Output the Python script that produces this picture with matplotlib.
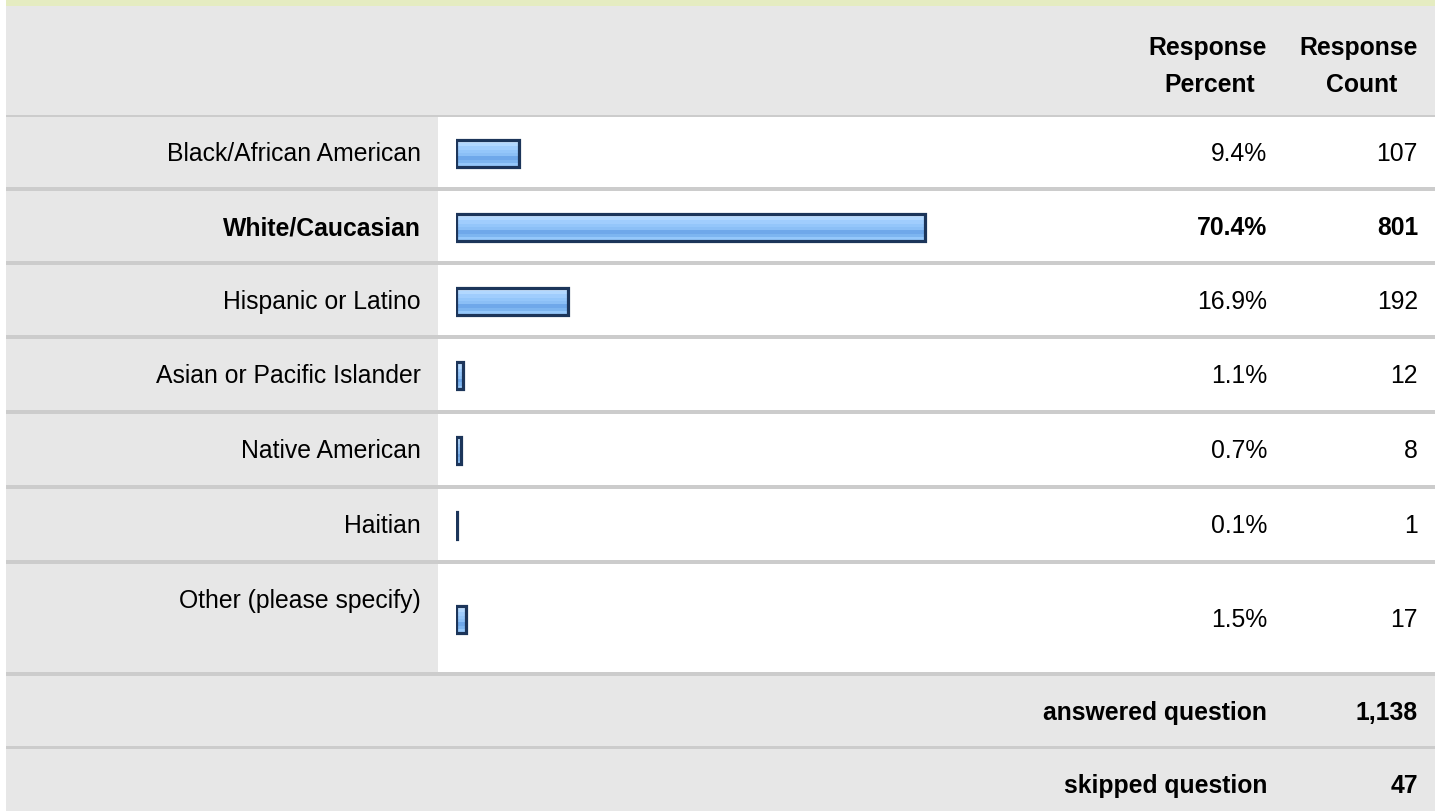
import matplotlib.pyplot as plt
from matplotlib import font_manager
from matplotlib.patches import Rectangle

installed = {f.name for f in font_manager.fontManager.ttflist}
for fam in ["Liberation Sans", "Arimo", "Arial", "Roboto", "DejaVu Sans"]:
    if fam in installed:
        FONT = fam
        break
plt.rcParams["font.family"] = [FONT, "DejaVu Sans"]

categories = [
    "Black/African American",
    "White/Caucasian",
    "Hispanic or Latino",
    "Asian or Pacific Islander",
    "Native American",
    "Haitian",
    "Other (please specify)",
]
percents = [9.4, 70.4, 16.9, 1.1, 0.7, 0.1, 1.5]
counts = [107, 801, 192, 12, 8, 1, 17]
highlight = "White/Caucasian"
answered = 1138
skipped = 47

W, H = 1442, 812
GRAY = "#E7E7E7"
SEP = "#CCCCCC"
TXT = "#000000"
FS = 17.8

# row layout in pixels (top, bottom)
row_tops = [118, 192, 266, 340, 415, 490, 565]
row_bots = [188, 262, 336, 411, 486, 561, 673]
LEFT, RIGHT, SPLIT = 6, 1435, 438
PCT_X, CNT_X = 1267, 1418

fig = plt.figure(figsize=(W / 100, H / 100), dpi=100)
ax = fig.add_axes([0, 0, 1, 1])
ax.set_xlim(0, W)
ax.set_ylim(H, 0)
ax.axis("off")


def rect(x0, y0, x1, y1, color):
    ax.add_patch(Rectangle((x0, y0), x1 - x0, y1 - y0, facecolor=color,
                           edgecolor="none", zorder=1))


# top strip and header
rect(LEFT, 0, RIGHT, 7, "#E5ECC1")
rect(LEFT, 7, RIGHT, 116, GRAY)
rect(LEFT, 116, RIGHT, 118.5, SEP)
ax.text(1208, 48, "Response", ha="center", va="center", fontsize=FS,
        fontweight="bold", color=TXT)
ax.text(1210, 85, "Percent", ha="center", va="center", fontsize=FS,
        fontweight="bold", color=TXT)
ax.text(1359, 48, "Response", ha="center", va="center", fontsize=FS,
        fontweight="bold", color=TXT)
ax.text(1362, 85, "Count", ha="center", va="center", fontsize=FS,
        fontweight="bold", color=TXT)

centers = []
for i, (cat, p, c) in enumerate(zip(categories, percents, counts)):
    top, bot = row_tops[i], row_bots[i]
    rect(LEFT, top, SPLIT, bot, GRAY)
    rect(SPLIT, top, RIGHT, bot, "white")
    rect(LEFT, bot, RIGHT, bot + 4, SEP)
    cy = (top + bot) / 2
    centers.append(cy)
    weight = "bold" if cat == highlight else "normal"
    label_y = cy + 1 if i < len(categories) - 1 else top + 36
    ax.text(421, label_y, cat, ha="right", va="center", fontsize=FS,
            fontweight=weight, color=TXT)
    ax.text(PCT_X, cy + 1, f"{p:.1f}%", ha="right", va="center", fontsize=FS,
            fontweight=weight, color=TXT)
    ax.text(CNT_X, cy + 1, f"{c:,}", ha="right", va="center", fontsize=FS,
            fontweight=weight, color=TXT)

# summary rows
rect(LEFT, 677, RIGHT, 747, GRAY)
rect(LEFT, 747, RIGHT, 749.5, SEP)
rect(LEFT, 749.5, RIGHT, H, GRAY)
ax.text(PCT_X, 713, "answered question", ha="right", va="center",
        fontsize=FS, fontweight="bold", color=TXT)
ax.text(CNT_X, 713, f"{answered:,}", ha="right", va="center",
        fontsize=FS, fontweight="bold", color=TXT)
ax.text(PCT_X, 786, "skipped question", ha="right", va="center",
        fontsize=FS, fontweight="bold", color=TXT)
ax.text(CNT_X, 786, f"{skipped:,}", ha="right", va="center",
        fontsize=FS, fontweight="bold", color=TXT)

# bar axes: x in percent, y in pixels
bar_left, px_per_100 = 456, 665.6
bx = fig.add_axes([bar_left / W, 0, px_per_100 / W, 1])
bx.set_xlim(0, 100)
bx.set_ylim(H, 0)
bx.axis("off")
bx.patch.set_alpha(0)

bar_h = 27
stripes = ["#C8E3FF", "#B2D8FF", "#A0CDFD", "#94C6FA", "#8BBFF6",
           "#6FA8EA", "#7DB5F0", "#95C8FB"]
n = len(stripes)
for k, col in enumerate(stripes):
    yk = [cy + 1 - bar_h / 2 + (k + 0.5) * bar_h / n for cy in centers]
    bx.barh(yk, percents, height=bar_h / n, color=col, edgecolor="none",
            zorder=2)
bx.barh([cy + 1 for cy in centers], percents, height=bar_h, fill=False,
        edgecolor="#1C355A", linewidth=2.3, zorder=3)

fig.savefig("out.png", dpi=100)
